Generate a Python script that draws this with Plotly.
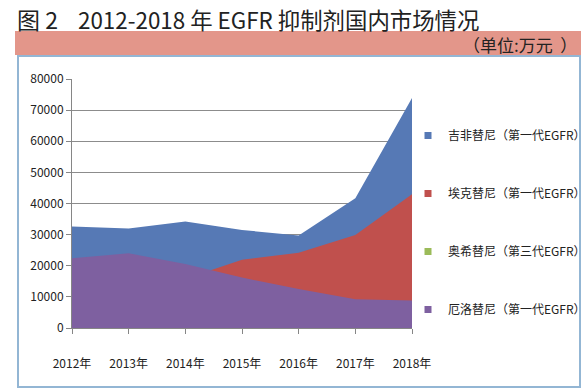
import plotly.graph_objects as go

# ---- data ----
years = ["2012年", "2013年", "2014年", "2015年", "2016年", "2017年", "2018年"]
gefitinib = [32600, 32000, 34200, 31500, 29700, 41700, 73900]    # 吉非替尼
icotinib = [9000, 12000, 15800, 21900, 24200, 29900, 43000]      # 埃克替尼
osimertinib = [0, 0, 0, 0, 0, 1500, 5000]                       # 奥希替尼
erlotinib = [22400, 24000, 20600, 16200, 12500, 9200, 8800]      # 厄洛替尼

names = ["吉非替尼（第一代EGFR）", "埃克替尼（第一代EGFR）", "奥希替尼（第三代EGFR）", "厄洛替尼（第一代EGFR）"]
series = [gefitinib, icotinib, osimertinib, erlotinib]
colors = ["#5679B5", "#C0504D", "#9BBB59", "#7E60A0"]
y_ticks = [0, 10000, 20000, 30000, 40000, 50000, 60000, 70000, 80000]

FONT = "Noto Sans CJK SC"
W, H = 585, 391
L, R, T, B = 72, 412, 79, 328  # plot area in pixels


def px(x):
    return (x - L) / (R - L)


def py(y):
    return (B - y) / (B - T)


fig = go.Figure()
for i, (n, s, c) in enumerate(zip(names, series, colors)):
    fig.add_trace(go.Scatter(
        x=years, y=s, mode="lines", fill="tozeroy",
        line=dict(width=0, color=c), fillcolor=c,
        showlegend=False, legendgroup=f"g{i}", hoverinfo="skip",
    ))
for i, (n, c) in enumerate(zip(names, colors)):
    fig.add_trace(go.Scatter(
        x=[None], y=[None], mode="markers", name=n,
        marker=dict(symbol="square", size=7, color=c),
        legendgroup=f"g{i}", showlegend=True,
    ))

shapes = [
    # pink band under title
    dict(type="rect", xref="paper", yref="paper",
         x0=px(15), x1=px(581), y0=py(55), y1=py(31),
         fillcolor="#E3968A", line=dict(width=0), layer="below"),
    # outer frame
    dict(type="rect", xref="paper", yref="paper",
         x0=px(18), x1=px(580), y0=py(387), y1=py(56),
         fillcolor="rgba(0,0,0,0)", line=dict(color="#93B6D4", width=2), layer="below"),
]

annotations = [
    dict(text="图 2", xref="paper", yref="paper",
         x=px(15), y=py(19), xanchor="left", yanchor="middle", showarrow=False,
         font=dict(family=FONT, size=23, color="#222222")),
    dict(text="2012-2018 年 EGFR 抑制剂国内市场情况", xref="paper", yref="paper",
         x=px(76), y=py(19), xanchor="left", yanchor="middle", showarrow=False,
         font=dict(family=FONT, size=22.4, color="#222222")),
    dict(text="（单位:万元\u00a0\u00a0）", xref="paper", yref="paper",
         x=px(579), y=py(44), xanchor="right", yanchor="middle", showarrow=False,
         font=dict(family=FONT, size=17, color="#222222")),
]

fig.update_layout(
    width=W, height=H,
    margin=dict(l=L, r=W - R, t=T, b=H - B, pad=0, autoexpand=False),
    paper_bgcolor="white", plot_bgcolor="white",
    font=dict(family=FONT, size=12, color="#222222"),
    shapes=shapes, annotations=annotations,
    legend=dict(
        x=px(408), y=py(121), xanchor="left", yanchor="top",
        font=dict(family=FONT, size=12, color="#222222"),
        tracegroupgap=39, itemwidth=30, bgcolor="rgba(0,0,0,0)",
    ),
    xaxis=dict(
        type="category", range=[0, 6], showgrid=False,
        showline=True, linecolor="#868686", linewidth=1,
        ticks="outside", ticklen=5, tickcolor="#868686",
        tickfont=dict(family=FONT, size=12, color="#222222"),
        ticklabelstandoff=20, fixedrange=True,
    ),
    yaxis=dict(
        range=[0, 80000], tickvals=y_ticks, ticktext=[str(v) for v in y_ticks],
        showgrid=True, gridcolor="#8C8C8C", gridwidth=1,
        showline=True, linecolor="#868686", linewidth=1,
        ticks="outside", ticklen=5, tickcolor="#868686",
        tickfont=dict(family=FONT, size=12, color="#222222"),
        zeroline=False, fixedrange=True,
    ),
)

fig.write_html("out.html", config={"displayModeBar": False},
               post_script="document.body.style.margin='0';")
